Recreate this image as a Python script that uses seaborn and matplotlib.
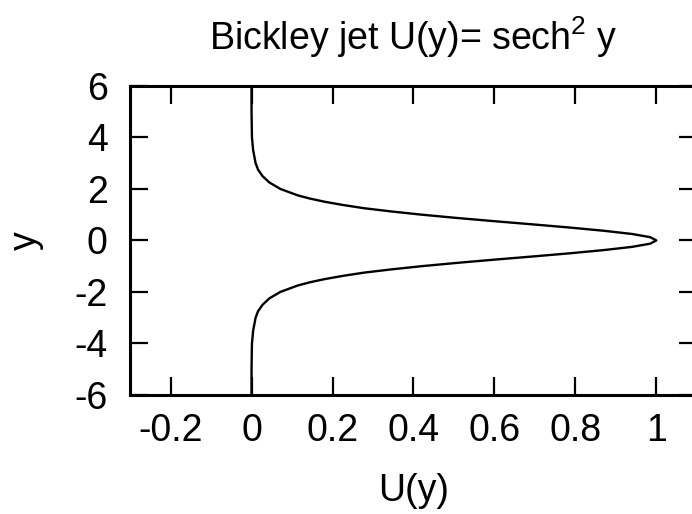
import matplotlib
matplotlib.use("Agg")
import matplotlib.pyplot as plt
import seaborn as sns
import pandas as pd

# values (y, U)
y_vals = [-6.0, -5.0, -4.0, -3.5, -3.0, -2.75, -2.5, -2.25, -2.0, -1.75, -1.625,
          -1.5, -1.375, -1.25, -1.125, -1.0, -0.875, -0.75, -0.625, -0.5, -0.375,
          -0.25, -0.125, 0.0, 0.125, 0.25, 0.375, 0.5, 0.625, 0.75, 0.875, 1.0,
          1.125, 1.25, 1.375, 1.5, 1.625, 1.75, 2.0, 2.25, 2.5, 2.75, 3.0, 3.5,
          4.0, 5.0, 6.0]
u_vals = [0.000, 0.000, 0.001, 0.004, 0.010, 0.016, 0.027, 0.044, 0.071, 0.114, 0.144,
          0.181, 0.226, 0.278, 0.345, 0.420, 0.505, 0.597, 0.693, 0.786, 0.870,
          0.940, 0.985, 1.000, 0.985, 0.940, 0.870, 0.786, 0.693, 0.597, 0.505, 0.420,
          0.345, 0.278, 0.226, 0.181, 0.144, 0.114, 0.071, 0.044, 0.027, 0.016, 0.010, 0.004,
          0.001, 0.000, 0.000]

x_ticks = [-0.2, 0, 0.2, 0.4, 0.6, 0.8, 1]
x_tick_labels = ["-0.2", "0", "0.2", "0.4", "0.6", "0.8", "1"]
y_ticks = [-6, -4, -2, 0, 2, 4, 6]

sns.set_style("ticks")
plt.rcParams['font.family'] = ['Liberation Sans', 'DejaVu Sans']
plt.rcParams['mathtext.default'] = 'regular'
plt.rcParams['axes.unicode_minus'] = False
plt.rcParams['text.color'] = 'black'
plt.rcParams['axes.labelcolor'] = 'black'

df = pd.DataFrame({"U": u_vals, "y": y_vals})

fig = plt.figure(figsize=(6.92, 5.14), dpi=100)
ax = fig.add_axes([0.188, 0.2315, 0.819, 0.6015])

sns.lineplot(data=df, x="U", y="y", orient="y", estimator=None, sort=True,
             color="black", linewidth=1.7, ax=ax)

ax.set_xlim(-0.3, 1.1)
ax.set_ylim(-6, 6)
ax.set_xticks(x_ticks)
ax.set_xticklabels(x_tick_labels)
ax.set_yticks(y_ticks)

for s in ax.spines.values():
    s.set_linewidth(2.2)
    s.set_color("black")

ax.tick_params(direction="in", length=13, width=1.6, top=True, right=True,
               labelsize=27, colors="black")
ax.tick_params(axis="x", pad=13)
ax.tick_params(axis="y", pad=16)

ax.set_xlabel("U(y)", fontsize=27, labelpad=17)
ax.set_ylabel("y", fontsize=27, labelpad=22)
ax.set_title("Bickley jet U(y)= sech$^2$ y", fontsize=27, pad=26)

fig.savefig("out.png", dpi=100)
